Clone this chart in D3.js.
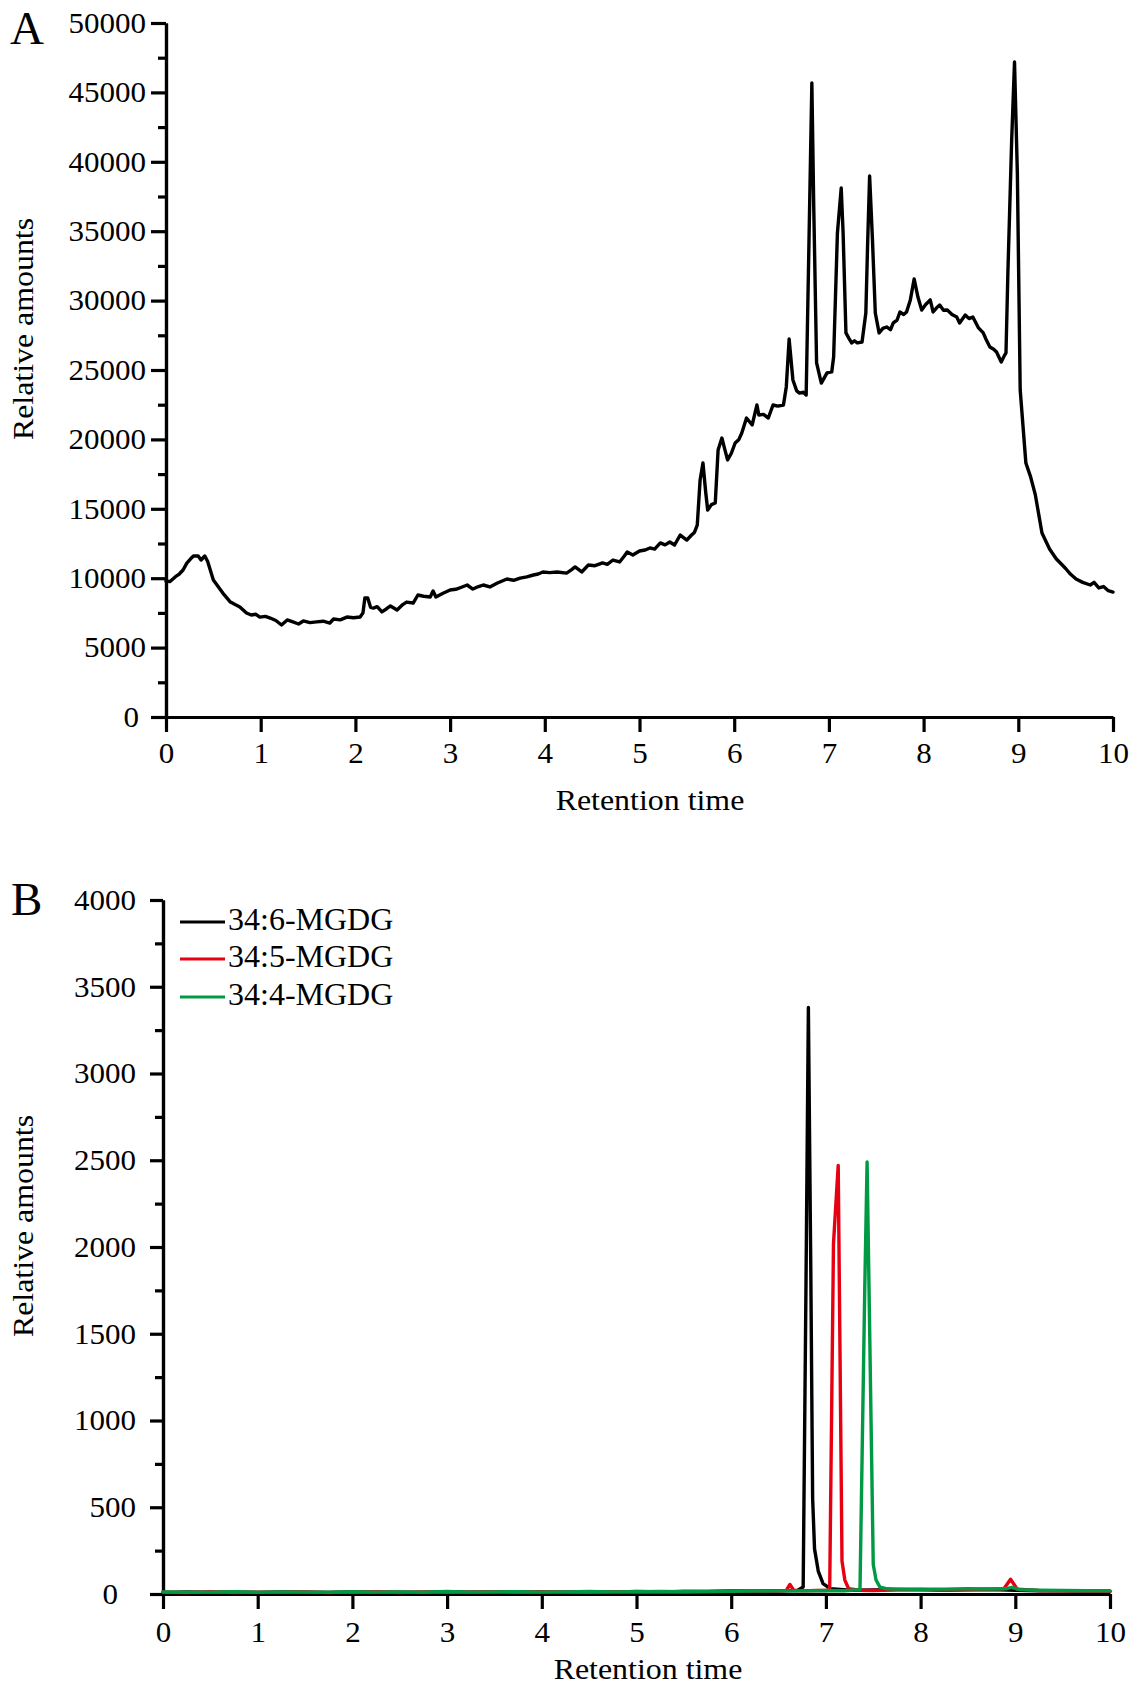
<!DOCTYPE html>
<html><head><meta charset="utf-8">
<script src="https://cdn.jsdelivr.net/npm/d3@7"></script>
<style>
body{margin:0;background:#fff;}
svg text{font-family:"Liberation Serif","Times New Roman",serif;fill:#000;}
</style></head><body>
<svg id="chart" width="1140" height="1688"></svg>
<script>
// ---- Data ----
const xTicks = [0,1,2,3,4,5,6,7,8,9,10];
const yTicksA = [0,5000,10000,15000,20000,25000,30000,35000,40000,45000,50000];
const yMinorA = [2500,7500,12500,17500,22500,27500,32500,37500,42500,47500];
const yTicksB = [0,500,1000,1500,2000,2500,3000,3500,4000];
const yMinorB = [250,750,1250,1750,2250,2750,3250,3750];
const seriesNames = ["34:6-MGDG","34:5-MGDG","34:4-MGDG"];
const seriesColors = ["#000000","#e60012","#009944"];

// Panel A: total ion chromatogram
const timeA = [
0.00,0.04,0.10,0.14,0.18,0.22,0.26,0.29,0.34,0.37,0.41,0.44,0.50,0.55,0.60,0.68,0.73,0.78,0.85,0.90,
0.95,0.99,1.05,1.10,1.16,1.22,1.28,1.34,1.40,1.45,1.52,1.59,1.66,1.73,1.77,1.84,1.91,1.98,2.05,2.08,
2.10,2.13,2.16,2.19,2.23,2.28,2.33,2.37,2.44,2.50,2.54,2.61,2.66,2.72,2.79,2.82,2.85,2.92,3.00,3.06,
3.12,3.18,3.24,3.30,3.35,3.42,3.50,3.55,3.60,3.67,3.74,3.81,3.88,3.93,3.98,4.05,4.13,4.23,4.28,4.32,
4.39,4.46,4.53,4.61,4.66,4.72,4.79,4.84,4.87,4.93,5.00,5.06,5.11,5.16,5.22,5.27,5.32,5.37,5.43,5.50,
5.55,5.58,5.61,5.64,5.67,5.70,5.72,5.76,5.80,5.83,5.87,5.90,5.93,5.97,6.01,6.05,6.08,6.13,6.19,6.24,
6.26,6.31,6.36,6.41,6.46,6.52,6.55,6.58,6.62,6.66,6.69,6.73,6.76,6.79,6.82,6.84,6.87,6.92,6.98,7.03,
7.05,7.09,7.13,7.15,7.18,7.21,7.24,7.27,7.30,7.35,7.39,7.41,7.43,7.46,7.49,7.53,7.57,7.61,7.65,7.68,
7.72,7.75,7.79,7.82,7.86,7.90,7.94,7.98,8.02,8.07,8.10,8.14,8.17,8.21,8.25,8.30,8.35,8.38,8.44,8.48,
8.52,8.58,8.63,8.66,8.70,8.74,8.77,8.82,8.85,8.87,8.89,8.93,8.96,8.99,9.02,9.08,9.13,9.18,9.25,9.33,
9.40,9.50,9.55,9.61,9.68,9.76,9.80,9.85,9.90,9.95,10.00];
const amountA = [
9800,9750,10110,10300,10590,11090,11400,11600,11600,11310,11600,11200,9870,9400,8930,8280,8100,7930,7490,7350,
7400,7200,7250,7130,6950,6630,6990,6850,6700,6920,6800,6850,6900,6770,7060,7000,7200,7150,7200,7500,
8570,8570,7900,7850,7950,7570,7800,8000,7710,8100,8280,8210,8790,8700,8650,9080,8650,8900,9150,9200,
9350,9510,9220,9400,9510,9370,9650,9800,9940,9850,10010,10100,10230,10300,10450,10400,10450,10370,10600,10810,
10450,10950,10900,11100,11000,11310,11170,11600,11890,11670,11960,12030,12180,12100,12540,12400,12610,12390,13110,12750,
13110,13300,13830,17080,18300,16140,14910,15300,15420,19240,20100,19300,18520,19000,19740,20000,20460,21540,21040,22480,
21760,21800,21540,22480,22400,22480,23780,27230,24280,23500,23340,23400,23200,34370,45680,36750,25510,24060,24790,24860,
25940,34870,38110,34870,27670,27300,26950,27100,26950,27020,29110,34370,38980,34370,29110,27670,28000,28100,27900,28390,
28600,29180,29000,29180,30050,31560,30260,29320,29700,30050,29180,29500,29680,29300,29320,29000,28820,28390,28960,28700,
28820,28030,27670,27200,26660,26500,26300,25580,26000,26230,31990,41570,47190,39200,23560,18300,17300,16000,13260,12100,
11400,10700,10300,9940,9700,9510,9700,9300,9400,9100,9000];

// Panel B: extracted ion chromatograms
const timeB6 = [0,0.25,0.5,0.75,1,1.25,1.5,1.75,2,2.25,2.5,2.75,3,3.25,3.5,3.75,4,4.25,4.5,4.75,5,5.25,5.5,5.75,6,6.25,6.5,
  6.7,6.76,6.79,6.815,6.84,6.86,6.88,6.92,6.97,7.05,
  7.25,7.5,7.75,8,8.25,8.5,8.75,9,9.25,9.5,9.75,10];
const amountB6 = [8,12,9,11,8,12,10,9,12,10,11,9,13,10,12,11,12,10,13,11,14,12,15,14,17,16,19,
  20,40,1800,3380,1900,550,260,130,60,30,
  22,24,26,25,23,24,26,22,19,18,17,16];
const timeB5 = [0,0.25,0.5,0.75,1,1.25,1.5,1.75,2,2.25,2.5,2.75,3,3.25,3.5,3.75,4,4.25,4.5,4.75,5,5.25,5.5,5.75,6,6.25,6.5,
  6.58,6.62,6.66,6.75,6.9,7.0,7.04,7.08,7.13,7.17,7.2,7.24,7.35,7.5,
  7.75,8,8.25,8.5,8.75,8.88,8.95,9.02,9.25,9.5,9.75,10];
const amountB5 = [10,8,13,9,11,10,12,8,11,13,9,12,10,11,13,10,12,11,10,13,12,11,14,13,15,18,17,
  20,55,22,18,20,20,25,2020,2470,190,80,30,22,20,
  24,26,22,25,28,30,85,28,20,18,17,15];
const timeB4 = [0,0.25,0.5,0.75,1,1.25,1.5,1.75,2,2.25,2.5,2.75,3,3.25,3.5,3.75,4,4.25,4.5,4.75,5,5.25,5.5,5.75,6,6.25,6.5,
  6.75,7.0,7.2,7.36,7.41,7.435,7.5,7.53,7.57,7.65,
  7.75,8,8.25,8.5,8.75,8.9,8.96,9.05,9.25,9.5,9.75,10];
const amountB4 = [12,10,11,13,10,12,11,10,13,11,12,10,14,11,12,13,11,12,14,12,13,14,13,15,16,17,18,
  18,20,19,25,1750,2490,170,80,40,30,
  28,27,28,30,29,30,38,25,22,20,19,18];

// ---- Drawing ----
const svg = d3.select("#chart");
const SX = 1.07; // horizontal stretch of the serif text in the reference
const FONT = "Liberation Serif, Times New Roman, serif";

function styleAxis(g){
  g.selectAll("path.domain").attr("stroke","#000").attr("stroke-width",3.2);
  g.selectAll(".tick line").attr("stroke","#000").attr("stroke-width",3.2);
}

function panel(o){
  const x = d3.scaleLinear().domain([0,10]).range([o.x0, o.x1]);
  const y = d3.scaleLinear().domain([0,o.yMax]).range([o.yBottom, o.yTop]);

  // minor y ticks
  const gm = svg.append("g").attr("transform",`translate(${o.x0},0)`)
    .call(d3.axisLeft(y).tickValues(o.minor).tickSize(8).tickSizeOuter(0).tickFormat(""));
  styleAxis(gm);
  // major y ticks
  const gy = svg.append("g").attr("transform",`translate(${o.x0},0)`)
    .call(d3.axisLeft(y).tickValues(o.major).tickSize(o.yTickLen).tickSizeOuter(0).tickFormat(d3.format("d")));
  styleAxis(gy);
  gy.selectAll(".tick text")
    .attr("font-size",29).attr("font-family",FONT)
    .attr("x", d => (-(o.x0 - o.labelRight) + (d===0 ? o.zeroShift : 0))/SX)
    .attr("transform",`scale(${SX},1)`);

  // x axis
  const gx = svg.append("g").attr("transform",`translate(0,${o.yBottom})`)
    .call(d3.axisBottom(x).tickValues(xTicks).tickSize(15).tickSizeOuter(0).tickPadding(o.xPad).tickFormat(d3.format("d")));
  styleAxis(gx);
  gx.selectAll(".tick text")
    .attr("font-size",29).attr("font-family",FONT)
    .attr("transform",`scale(${SX},1)`);

  // series
  const line = d3.line().x(d=>x(d[0])).y(d=>y(d[1]));
  o.series.forEach(s=>{
    svg.append("path")
      .datum(d3.zip(s.t, s.v))
      .attr("fill","none").attr("stroke",s.color).attr("stroke-width",3.4)
      .attr("stroke-linejoin","round").attr("stroke-linecap","round")
      .attr("d",line);
  });

  // titles
  svg.append("text").attr("transform",`translate(${o.xTitleX},${o.xTitleY}) scale(1.1,1)`)
    .attr("text-anchor","middle").attr("font-size",29).text("Retention time");
  svg.append("text").attr("transform",`translate(${o.yTitleX},${o.yTitleY}) rotate(-90) scale(1.1,1)`)
    .attr("text-anchor","middle").attr("font-size",29).text("Relative amounts");
  svg.append("text").attr("x",o.letterX).attr("y",o.letterY)
    .attr("font-size",47).text(o.letter);
  return {x,y};
}

panel({
  x0:166, x1:1113, yTop:23, yBottom:717, yMax:50000,
  major:yTicksA, minor:yMinorA, yTickLen:15, labelRight:146, zeroShift:-7, xPad:10,
  series:[{t:timeA, v:amountA, color:"#000"}],
  xTitleX:650, xTitleY:810, yTitleX:33, yTitleY:329,
  letter:"A", letterX:10, letterY:44
});

panel({
  x0:163, x1:1110, yTop:900, yBottom:1594, yMax:4000,
  major:yTicksB, minor:yMinorB, yTickLen:13, labelRight:136, zeroShift:-18, xPad:12,
  series:[
    {t:timeB6, v:amountB6, color:seriesColors[0]},
    {t:timeB5, v:amountB5, color:seriesColors[1]},
    {t:timeB4, v:amountB4, color:seriesColors[2]}
  ],
  xTitleX:648, xTitleY:1679, yTitleX:33, yTitleY:1226,
  letter:"B", letterX:11, letterY:915
});

// legend in panel B
const legendY = [922,959,997];
seriesNames.forEach((name,i)=>{
  svg.append("line").attr("x1",180).attr("x2",225).attr("y1",legendY[i]).attr("y2",legendY[i])
    .attr("stroke",seriesColors[i]).attr("stroke-width",3.2);
  svg.append("text").attr("x",228).attr("y",legendY[i]+8).attr("font-size",32).text(name);
});
</script>
</body></html>
